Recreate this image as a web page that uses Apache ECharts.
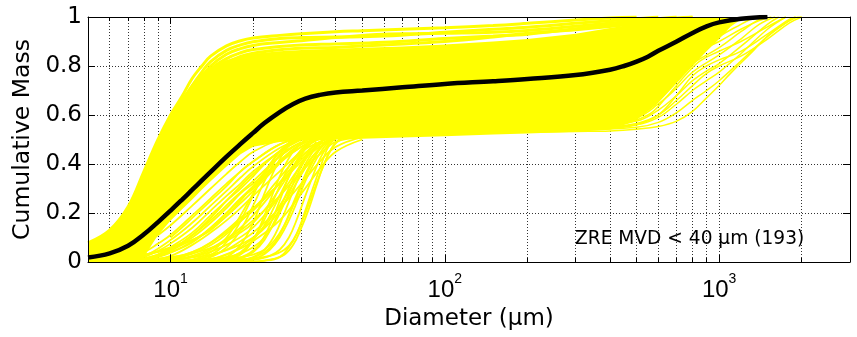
<!DOCTYPE html>
<html>
<head>
<meta charset="utf-8">
<script src="https://cdn.jsdelivr.net/npm/echarts@6/dist/echarts.min.js"></script>
<style>
  html, body { margin: 0; padding: 0; background: #fff; }
  #chart { width: 857px; height: 337px; }
</style>
</head>
<body>
<div id="chart"></div>
<script>
// ---- axes ----------------------------------------------------------------
const xMin = 5, xMax = 3000;                 // diameter range, µm (log scale)
const xMajorTicks = [10, 100, 1000];
const xMinorTicks = [6, 7, 8, 9, 20, 30, 40, 50, 60, 70, 80, 90,
                     200, 300, 400, 500, 600, 700, 800, 900, 2000];
const xGridValues = xMinorTicks.concat(xMajorTicks);
const yTicks = [0, 0.2, 0.4, 0.6, 0.8, 1];

const xTitle = 'Diameter (μm)';
const yTitle = 'Cumulative Mass';
const noteText = 'ZRE MVD < 40 μm (193)';

// ---- mean cumulative mass distribution ------------------------------------
const meanCurve = [
  [5, 0.018], [6, 0.035], [7, 0.066], [8, 0.113], [9, 0.163], [10, 0.21],
  [11, 0.254], [12, 0.295], [13, 0.333], [14, 0.368], [16, 0.43], [18, 0.482],
  [20, 0.527], [22, 0.567], [25, 0.612], [28, 0.645], [31, 0.667], [35, 0.682],
  [40, 0.692], [50, 0.70], [70, 0.713], [100, 0.727], [150, 0.738], [200, 0.747],
  [300, 0.763], [400, 0.785], [450, 0.80], [500, 0.818], [550, 0.838], [600, 0.862],
  [700, 0.90], [800, 0.935], [900, 0.962], [1000, 0.978], [1200, 0.993], [1500, 1.0]
];

// ---- dense core of the individual distributions ---------------------------
const coreD    = [5, 6, 7, 8, 9, 10, 11, 12, 13, 14, 16, 18, 20, 25, 30, 35, 40, 50, 70,
                  100, 150, 200, 300, 400, 500, 600, 700, 800, 900, 1000, 1100, 1200, 1300];
const coreLow  = [0, 0, 0, 0.02, 0.11, 0.168, 0.214, 0.255, 0.295, 0.33, 0.39, 0.44, 0.47,
                  0.49, 0.495, 0.497, 0.50, 0.503, 0.508, 0.513, 0.52, 0.525, 0.532, 0.54,
                  0.58, 0.65, 0.73, 0.80, 0.86, 0.91, 0.96, 0.99, 1.0];
const coreHigh = [0.078, 0.13, 0.225, 0.37, 0.50, 0.60, 0.67, 0.73, 0.77, 0.795, 0.825, 0.84,
                  0.85, 0.86, 0.865, 0.868, 0.87, 0.874, 0.88, 0.888, 0.90, 0.91, 0.932, 0.955,
                  0.972, 0.985, 0.995, 1.0, 1.0, 1.0, 1.0, 1.0, 1.0];

// ---- individual distributions along the upper edge ------------------------
const upperCurves = [
  [[5, 0.078], [6, 0.13], [7, 0.225], [8, 0.37], [9, 0.50], [10, 0.60], [11, 0.675], [12, 0.75],
   [13, 0.80], [14, 0.84], [16, 0.882], [18, 0.903], [20, 0.914], [25, 0.925], [30, 0.932],
   [40, 0.94], [50, 0.944], [70, 0.95], [100, 0.956], [150, 0.965], [200, 0.974], [300, 0.988],
   [400, 0.996], [500, 1]],
  [[10, 0.57], [11, 0.65], [12, 0.72], [13, 0.775], [14, 0.818], [16, 0.864], [18, 0.886],
   [20, 0.899], [25, 0.912], [30, 0.916], [40, 0.918], [60, 0.922], [100, 0.938], [150, 0.95],
   [200, 0.958], [300, 0.974], [500, 0.993], [600, 1]],
  [[11, 0.63], [12, 0.70], [13, 0.755], [14, 0.80], [16, 0.848], [18, 0.871], [20, 0.884],
   [25, 0.896], [30, 0.903], [40, 0.916], [60, 0.93], [80, 0.932], [100, 0.934], [150, 0.938],
   [200, 0.945], [300, 0.962], [500, 0.985], [700, 1]],
  [[11, 0.61], [12, 0.68], [14, 0.785], [16, 0.83], [18, 0.854], [20, 0.867], [25, 0.88],
   [30, 0.886], [40, 0.89], [60, 0.897], [100, 0.912], [150, 0.922], [200, 0.93], [300, 0.952],
   [500, 0.978], [700, 0.996], [800, 1]],
  [[12, 0.66], [14, 0.765], [16, 0.813], [18, 0.839], [20, 0.852], [25, 0.866], [30, 0.872],
   [40, 0.876], [60, 0.886], [100, 0.9], [150, 0.918], [200, 0.934], [300, 0.948],
   [500, 0.972], [800, 1]]
];

// ---- individual distributions with a late rise (fine end) ------------------
const lowerCurves = [
  [[5, 0], [6, 0.01], [7, 0.03], [8, 0.07], [9, 0.11], [10, 0.15], [12, 0.23], [14, 0.30],
   [16, 0.36], [18, 0.41], [20, 0.45], [25, 0.50], [30, 0.52]],
  [[6, 0], [7, 0.015], [8, 0.04], [9, 0.075], [10, 0.11], [12, 0.19], [14, 0.26], [16, 0.32],
   [18, 0.37], [20, 0.41], [25, 0.48], [30, 0.51]],
  [[7, 0], [8, 0.02], [9, 0.045], [10, 0.075], [12, 0.14], [14, 0.21], [16, 0.27], [18, 0.32],
   [20, 0.37], [25, 0.45], [30, 0.50], [35, 0.52]],
  [[7, 0], [8, 0.01], [10, 0.045], [12, 0.10], [14, 0.16], [16, 0.22], [18, 0.28], [20, 0.32],
   [25, 0.41], [30, 0.47], [35, 0.51]],
  [[8, 0], [10, 0.025], [12, 0.07], [14, 0.12], [16, 0.17], [18, 0.22], [20, 0.27], [25, 0.37],
   [30, 0.45], [35, 0.49], [40, 0.51]],
  [[8, 0], [10, 0.012], [12, 0.04], [14, 0.08], [16, 0.13], [18, 0.18], [20, 0.22], [25, 0.32],
   [30, 0.41], [35, 0.47], [40, 0.50]],
  [[9, 0], [12, 0.02], [14, 0.05], [16, 0.09], [18, 0.13], [20, 0.17], [25, 0.27], [30, 0.37],
   [35, 0.44], [40, 0.49], [50, 0.51]],
  [[10, 0], [12, 0.008], [14, 0.025], [16, 0.05], [18, 0.085], [20, 0.12], [25, 0.22],
   [30, 0.32], [35, 0.41], [40, 0.47], [50, 0.51]],
  [[11, 0], [14, 0.012], [16, 0.03], [18, 0.055], [20, 0.085], [25, 0.17], [30, 0.28],
   [35, 0.38], [40, 0.45], [50, 0.50]],
  [[5, 0.005], [7, 0.02], [9, 0.04], [11, 0.07], [13, 0.11], [15, 0.16], [18, 0.24], [20, 0.29],
   [23, 0.36], [26, 0.42], [30, 0.47], [35, 0.51]],
  [[5, 0], [8, 0.01], [10, 0.02], [12, 0.035], [15, 0.07], [18, 0.12], [20, 0.16], [23, 0.24],
   [26, 0.33], [30, 0.43], [35, 0.49]],
  [[6, 0.005], [8, 0.03], [10, 0.06], [12, 0.09], [14, 0.13], [16, 0.19], [18, 0.25], [20, 0.31],
   [23, 0.39], [26, 0.45], [30, 0.49]],
  [[6, 0], [8, 0.025], [10, 0.09], [12, 0.16], [14, 0.23], [16, 0.29], [18, 0.345], [20, 0.39],
   [25, 0.465], [30, 0.505]],
  [[7, 0], [9, 0.02], [11, 0.06], [13, 0.11], [15, 0.17], [17, 0.23], [19, 0.285], [22, 0.35],
   [26, 0.43], [30, 0.48], [35, 0.51]],
  [[8, 0], [10, 0.006], [12, 0.025], [14, 0.055], [16, 0.095], [18, 0.14], [20, 0.19],
   [23, 0.27], [26, 0.35], [30, 0.43], [35, 0.49]],
  [[5, 0], [9, 0.01], [12, 0.04], [15, 0.1], [18, 0.17], [20, 0.21], [23, 0.28], [26, 0.34],
   [30, 0.42], [35, 0.48], [40, 0.51]],
  [[6, 0], [8, 0.015], [10, 0.05], [12, 0.11], [14, 0.18], [16, 0.25], [18, 0.31], [20, 0.36],
   [25, 0.45], [30, 0.50]],
  [[7, 0], [9, 0.03], [11, 0.08], [13, 0.14], [15, 0.20], [17, 0.26], [20, 0.33], [25, 0.43],
   [30, 0.49]],
  [[8, 0.01], [10, 0.04], [12, 0.08], [14, 0.14], [16, 0.20], [18, 0.26], [20, 0.30], [24, 0.39],
   [28, 0.46], [33, 0.51]],
  [[9, 0.005], [11, 0.02], [13, 0.05], [15, 0.09], [17, 0.14], [19, 0.19], [21, 0.24], [24, 0.32],
   [28, 0.41], [32, 0.48], [37, 0.51]],
  [[10, 0.005], [13, 0.03], [16, 0.07], [19, 0.12], [22, 0.19], [25, 0.27], [28, 0.35],
   [32, 0.44], [36, 0.49]],
  [[9, 0.03], [10, 0.06], [12, 0.12], [14, 0.19], [16, 0.25], [18, 0.30], [20, 0.35], [23, 0.42],
   [27, 0.48], [31, 0.51]],
  [[10, 0.10], [11, 0.14], [12, 0.18], [14, 0.25], [16, 0.31], [18, 0.37], [20, 0.41], [24, 0.47],
   [28, 0.50]],
  [[5, 0], [8, 0.005], [11, 0.015], [14, 0.03], [17, 0.06], [20, 0.10], [23, 0.16], [26, 0.24],
   [29, 0.33], [33, 0.43], [37, 0.49]],
  [[5, 0], [10, 0.003], [15, 0.008], [20, 0.015], [23, 0.025], [26, 0.05], [28, 0.09],
   [30, 0.16], [33, 0.28], [36, 0.39], [39, 0.47], [43, 0.51]],
  [[5, 0], [10, 0.005], [15, 0.012], [18, 0.02], [20, 0.03], [22, 0.05], [24, 0.09], [26, 0.15],
   [28, 0.23], [30, 0.31], [33, 0.41], [36, 0.48], [40, 0.51]],
  [[5, 0], [12, 0.008], [16, 0.02], [18, 0.035], [20, 0.06], [22, 0.10], [24, 0.16], [26, 0.24],
   [28, 0.32], [30, 0.39], [33, 0.46], [36, 0.50]],
  [[12, 0], [14, 0.005], [16, 0.02], [18, 0.07], [20, 0.16], [22, 0.28], [24, 0.38], [26, 0.45],
   [28, 0.49], [32, 0.51]],
  [[13, 0], [16, 0.01], [18, 0.03], [20, 0.09], [22, 0.19], [24, 0.30], [26, 0.39], [28, 0.45],
   [31, 0.50]],
  [[14, 0], [17, 0.01], [19, 0.03], [21, 0.07], [23, 0.15], [25, 0.25], [27, 0.35], [29, 0.42],
   [32, 0.49]],
  [[15, 0], [18, 0.008], [20, 0.02], [22, 0.05], [24, 0.11], [26, 0.20], [28, 0.29], [30, 0.37],
   [33, 0.45], [36, 0.50]],
  [[17, 0], [20, 0.008], [23, 0.025], [25, 0.05], [27, 0.10], [29, 0.18], [31, 0.27], [33, 0.35],
   [35, 0.42], [38, 0.49]],
  [[10, 0], [12, 0.01], [14, 0.04], [16, 0.10], [18, 0.19], [20, 0.28], [22, 0.36], [25, 0.45],
   [28, 0.50]],
  [[11, 0], [13, 0.015], [15, 0.05], [17, 0.12], [19, 0.22], [21, 0.32], [23, 0.40], [26, 0.47],
   [29, 0.51]],
  [[12, 0.005], [14, 0.02], [16, 0.06], [18, 0.13], [20, 0.23], [22, 0.33], [24, 0.41],
   [27, 0.48], [30, 0.51]],
  [[16, 0], [19, 0.01], [22, 0.04], [24, 0.08], [26, 0.15], [28, 0.24], [30, 0.32], [32, 0.39],
   [35, 0.46], [38, 0.50]],
  [[12, 0], [15, 0.02], [18, 0.06], [21, 0.12], [24, 0.20], [27, 0.29], [30, 0.37], [34, 0.45],
   [38, 0.50]],
  [[13, 0], [16, 0.015], [18, 0.04], [20, 0.09], [22, 0.15], [24, 0.23], [26, 0.31], [28, 0.38],
   [31, 0.46], [34, 0.50]],
  [[14, 0], [17, 0.02], [19, 0.06], [21, 0.13], [23, 0.22], [25, 0.31], [27, 0.39], [30, 0.46],
   [33, 0.50]],
  [[15, 0], [18, 0.015], [20, 0.04], [22, 0.09], [24, 0.17], [26, 0.26], [28, 0.34], [31, 0.43],
   [34, 0.49]],
  [[16, 0], [19, 0.005], [21, 0.02], [23, 0.05], [25, 0.10], [27, 0.17], [29, 0.25], [31, 0.33],
   [34, 0.42], [37, 0.48], [40, 0.51]],
  [[19, 0], [23, 0.01], [26, 0.03], [28, 0.07], [30, 0.14], [32, 0.22], [34, 0.31], [36, 0.39],
   [39, 0.47], [42, 0.51]],
  [[18, 0], [22, 0.005], [25, 0.02], [27, 0.06], [29, 0.12], [31, 0.21], [33, 0.30],
   [35.5, 0.40], [38, 0.48], [41, 0.51]]
];

// ---- individual distributions with a late rise (coarse end) ----------------
const coarseCurves = [
  [[200, 0.53], [300, 0.533], [400, 0.535], [500, 0.542], [600, 0.553], [700, 0.575],
   [800, 0.615], [900, 0.67], [1000, 0.72], [1100, 0.77], [1300, 0.85], [1550, 0.935],
   [1880, 0.995], [2000, 1]],
  [[300, 0.54], [500, 0.55], [600, 0.57], [700, 0.61], [800, 0.66], [900, 0.70], [1000, 0.74],
   [1200, 0.82], [1500, 0.92], [1800, 0.985], [1900, 1]],
  [[300, 0.545], [500, 0.56], [600, 0.59], [700, 0.645], [800, 0.70], [900, 0.74],
   [1000, 0.775], [1200, 0.85], [1500, 0.95], [1750, 1]],
  [[300, 0.55], [500, 0.575], [600, 0.62], [700, 0.68], [800, 0.74], [900, 0.78], [1000, 0.81],
   [1200, 0.88], [1500, 0.97], [1650, 1]],
  [[300, 0.555], [500, 0.59], [600, 0.645], [700, 0.71], [800, 0.775], [1000, 0.845],
   [1200, 0.91], [1400, 0.97], [1600, 1]],
  [[300, 0.565], [500, 0.615], [600, 0.68], [700, 0.75], [800, 0.81], [1000, 0.875],
   [1200, 0.94], [1400, 0.99], [1500, 1]],
  [[400, 0.545], [500, 0.56], [600, 0.60], [700, 0.68], [800, 0.76], [900, 0.80], [1000, 0.825],
   [1200, 0.86], [1500, 0.93], [1800, 0.99], [1900, 1]],
  [[400, 0.55], [550, 0.60], [650, 0.68], [750, 0.76], [850, 0.82], [1000, 0.86], [1200, 0.90],
   [1500, 0.96], [1750, 1]],
  [[300, 0.58], [500, 0.66], [600, 0.73], [700, 0.80], [800, 0.85], [1000, 0.90], [1200, 0.95],
   [1400, 0.985], [1550, 1]],
  [[300, 0.56], [450, 0.58], [550, 0.62], [650, 0.70], [750, 0.79], [850, 0.86], [1000, 0.92],
   [1200, 0.97], [1350, 1]],
  [[350, 0.545], [500, 0.565], [600, 0.6], [700, 0.66], [800, 0.72], [900, 0.77], [1000, 0.80],
   [1200, 0.84], [1500, 0.91], [1800, 0.975], [2000, 1]]
];

// ---- styling ---------------------------------------------------------------
const YELLOW = '#ffff00';
const TEXT_FONT = 'DejaVu Sans, Verdana, sans-serif';
const TICK_FONT = 'Liberation Sans, Arial, sans-serif';
const gridStyle = { color: '#333', width: 1, type: [1, 2] };
const frameLine = { show: true, onZero: false, lineStyle: { color: '#000', width: 1 } };

function logX(extra) {
  return Object.assign({ type: 'log', logBase: 10, min: xMin, max: xMax,
    splitLine: { show: false }, minorTick: { show: false }, axisLabel: { show: false } }, extra);
}
function valY(extra) {
  return Object.assign({ type: 'value', min: yTicks[0], max: yTicks[yTicks.length - 1],
    interval: yTicks[1] - yTicks[0], splitLine: { show: false }, axisLabel: { show: false } }, extra);
}

function curveSeries(points, width) {
  return {
    type: 'line', data: points, showSymbol: false, symbol: 'none',
    smooth: 0.4, silent: true, z: 3,
    lineStyle: { color: YELLOW, width: width }
  };
}

const series = [];

// solid core region
series.push({
  type: 'custom', coordinateSystem: 'cartesian2d', silent: true, z: 2, clip: true,
  data: [[coreD[0], coreLow[0]]],
  renderItem: function (params, api) {
    const pts = [];
    for (let i = 0; i < coreD.length; i++) pts.push(api.coord([coreD[i], coreHigh[i]]));
    for (let i = coreD.length - 1; i >= 0; i--) pts.push(api.coord([coreD[i], coreLow[i]]));
    return { type: 'polygon', shape: { points: pts }, style: { fill: YELLOW } };
  }
});

upperCurves.forEach(c => series.push(curveSeries(c, 3)));
lowerCurves.forEach(c => series.push(curveSeries(c, 1.8)));
coarseCurves.forEach(c => series.push(curveSeries(c, 1.5)));

series.push({
  type: 'line', data: meanCurve, showSymbol: false, symbol: 'none',
  smooth: 0.4, silent: true, z: 6,
  lineStyle: { color: '#000', width: 4.5 }
});

const chart = echarts.init(document.getElementById('chart'), null, { renderer: 'canvas' });
chart.setOption({
  animation: false,
  backgroundColor: '#fff',
  grid: { left: 88, right: 7, top: 17, bottom: 75, containLabel: false },
  xAxis: [
    logX({
      position: 'bottom', z: 10, axisLine: frameLine,
      axisTick: { show: true, inside: true, length: 7, customValues: xMajorTicks,
                  lineStyle: { color: '#000' } },
      axisLabel: {
        show: true, customValues: xMajorTicks, margin: 10,
        formatter: function (v) {
          const e = Math.round(Math.log10(v));
          return Math.abs(Math.pow(10, e) - v) < 1e-6 ? '{b|10}{s|' + e + '}' : '';
        },
        rich: {
          b: { fontSize: 24, fontFamily: TICK_FONT, color: '#000', lineHeight: 36 },
          s: { fontSize: 14, fontFamily: TICK_FONT, color: '#000', lineHeight: 14, verticalAlign: 'top' }
        }
      },
      name: xTitle, nameLocation: 'middle', nameGap: 46,
      nameTextStyle: { fontSize: 23, fontFamily: TEXT_FONT, color: '#000' }
    }),
    logX({
      position: 'top', z: 10, axisLine: frameLine,
      axisTick: { show: true, inside: true, length: 7, customValues: xMajorTicks,
                  lineStyle: { color: '#000' } }
    }),
    logX({
      position: 'bottom', z: 0, axisLine: { show: false, onZero: false },
      axisTick: { show: true, inside: true, length: 4, customValues: xGridValues,
                  lineStyle: { color: '#000' } },
      splitLine: { show: true, lineStyle: gridStyle }
    }),
    logX({
      position: 'top', z: 0, axisLine: { show: false, onZero: false },
      axisTick: { show: true, inside: true, length: 4, customValues: xMinorTicks,
                  lineStyle: { color: '#000' } }
    })
  ],
  yAxis: [
    valY({
      position: 'left', z: 10, axisLine: frameLine,
      axisTick: { show: true, inside: true, length: 7, lineStyle: { color: '#000' } },
      axisLabel: { show: true, margin: 6, fontSize: 23, fontFamily: TEXT_FONT, color: '#000' },
      name: yTitle, nameLocation: 'middle', nameGap: 47,
      nameTextStyle: { fontSize: 23.5, fontFamily: TEXT_FONT, color: '#000' }
    }),
    valY({
      position: 'right', z: 10, axisLine: frameLine,
      axisTick: { show: true, inside: true, length: 7, lineStyle: { color: '#000' } }
    }),
    valY({
      position: 'left', z: 0, axisLine: { show: false, onZero: false },
      axisTick: { show: false },
      splitLine: { show: true, lineStyle: gridStyle }
    })
  ],
  graphic: [{
    type: 'text', x: 575, y: 239, z: 20, silent: true,
    style: { text: noteText, font: '18.6px ' + TEXT_FONT, fill: '#000',
             align: 'left', verticalAlign: 'middle' }
  }],
  series: series
});
</script>
</body>
</html>
